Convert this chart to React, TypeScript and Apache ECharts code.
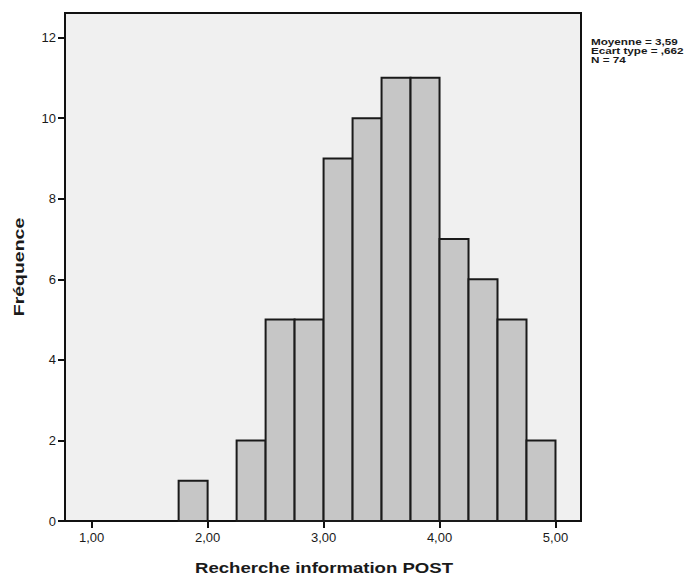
import React, { useEffect, useRef } from "react";
import * as echarts from "echarts";

const binStarts = [1.75, 2.25, 2.5, 2.75, 3.0, 3.25, 3.5, 3.75, 4.0, 4.25, 4.5, 4.75];
const binEnds = [2.0, 2.5, 2.75, 3.0, 3.25, 3.5, 3.75, 4.0, 4.25, 4.5, 4.75, 5.0];
const counts = [1, 2, 5, 5, 9, 10, 11, 11, 7, 6, 5, 2];
const xTicks = [1, 2, 3, 4, 5];
const yTicks = [0, 2, 4, 6, 8, 10, 12];
const statsLines = ["Moyenne = 3,59", "Ecart type = ,662", "N = 74"];
const xTitle = "Recherche information POST";
const yTitle = "Fréquence";

export default function App() {
  const ref = useRef<HTMLDivElement>(null);
  useEffect(() => {
    if (!ref.current) return;
    const chart = echarts.init(ref.current, null, { renderer: "svg" });
    const data = binStarts.map((s, i) => [s, binEnds[i], counts[i]]);
    const font = "'Liberation Sans', Arial, sans-serif";
    chart.setOption({
      animation: false,
      backgroundColor: "#ffffff",
      grid: {
        left: 65,
        top: 13,
        right: 116,
        bottom: 57,
        show: true,
        backgroundColor: "#f0f0f0",
        borderColor: "#111",
        borderWidth: 2,
      },
      xAxis: {
        type: "value",
        min: 0.77,
        max: 5.22,
        axisLine: { show: false },
        splitLine: { show: false },
        axisTick: {
          show: true,
          customValues: xTicks,
          length: 7,
          lineStyle: { color: "#111", width: 2 },
        },
        axisLabel: {
          customValues: xTicks,
          margin: 10,
          color: "#1a1a1a",
          fontSize: 13,
          fontFamily: font,
          formatter: (v: number) => v.toFixed(2).replace(".", ","),
        },
      },
      yAxis: {
        type: "value",
        min: 0,
        max: 12.61,
        axisLine: { show: false },
        splitLine: { show: false },
        axisTick: {
          show: true,
          customValues: yTicks,
          length: 7,
          lineStyle: { color: "#111", width: 2 },
        },
        axisLabel: {
          customValues: yTicks,
          margin: 9,
          color: "#1a1a1a",
          fontSize: 13,
          fontFamily: font,
        },
      },
      series: [
        {
          type: "custom",
          data,
          encode: { x: [0, 1], y: 2 },
          renderItem: (params: any, api: any) => {
            const tl = api.coord([api.value(0), api.value(2)]);
            const br = api.coord([api.value(1), 0]);
            return {
              type: "rect",
              shape: { x: tl[0], y: tl[1], width: br[0] - tl[0], height: br[1] - tl[1] },
              style: { fill: "#c6c6c6", stroke: "#1a1a1a", lineWidth: 2 },
            };
          },
        },
      ],
      graphic: [
        {
          type: "text",
          x: 591,
          y: 38,
          scaleX: 1.3,
          style: {
            text: statsLines.join("\n"),
            fontSize: 9,
            fontWeight: "bold",
            lineHeight: 8.6,
            fontFamily: font,
            fill: "#1a1a1a",
          },
        },
        {
          type: "text",
          x: 324,
          y: 568,
          scaleX: 1.24,
          style: {
            text: xTitle,
            fontSize: 15,
            fontWeight: "bold",
            fontFamily: font,
            fill: "#1a1a1a",
            align: "center",
            verticalAlign: "middle",
          },
        },
        {
          type: "text",
          x: 19,
          y: 267,
          rotation: Math.PI / 2,
          scaleX: 1.3,
          style: {
            text: yTitle,
            fontSize: 15,
            fontWeight: "bold",
            fontFamily: font,
            fill: "#1a1a1a",
            align: "center",
            verticalAlign: "middle",
          },
        },
      ],
    });
    return () => chart.dispose();
  }, []);
  return <div ref={ref} style={{ width: 697, height: 578, position: "absolute", left: 0, top: 0 }} />;
}
